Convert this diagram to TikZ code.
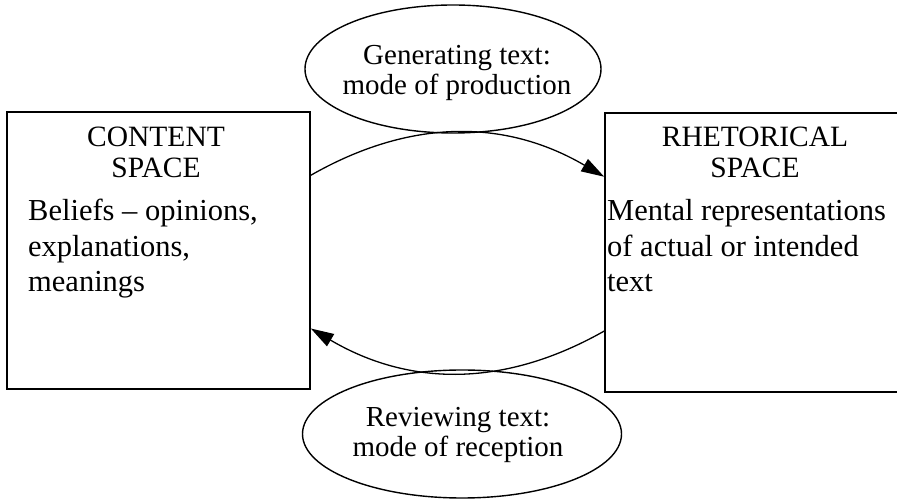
\documentclass[tikz,border=0pt]{standalone}
\usepackage{fontspec}
\setmainfont{Liberation Serif}
\usetikzlibrary{shapes.geometric,arrows.meta,calc}
\begin{document}
\begin{tikzpicture}[x=1pt,y=1pt,
  spacebox/.style={draw, rectangle, line width=1.6pt, inner sep=0pt},
  modeoval/.style={draw, ellipse, line width=1.4pt, inner sep=0pt},
  flow/.style={line width=1.3pt, -{Triangle[length=23pt,width=14pt]}},
  titletext/.style={font=\fontsize{29.5}{31.5}\selectfont, align=center, inner sep=0pt, anchor=base},
  bodytext/.style={font=\fontsize{30.5}{35.5}\selectfont, align=left, inner sep=0pt, anchor=base west},
  ovaltext/.style={font=\fontsize{29}{30}\selectfont, align=center, inner sep=0pt, anchor=base}]
\clip (0,0) rectangle (897,503);
\fill[white] (0,0) rectangle (897,503);
% boxes
\node[spacebox, minimum width=303pt, minimum height=277pt] (L) at (158.5,252.5) {};
\node[spacebox, minimum width=304pt, minimum height=279pt] (R) at (757,250.5) {};
% ovals
\node[modeoval, minimum width=296pt, minimum height=128pt] (G) at (453,434) {};
\node[modeoval, minimum width=319pt, minimum height=128pt] (V) at (462,69) {};
% texts (anchor = baseline of the last line)
\node[titletext] (Lt) at (156,325) {CONTENT\\SPACE};
\node[bodytext] (Lb) at (28,211.3) {Beliefs -- opinions,\\explanations,\\meanings};
\node[titletext] (Rt) at (755,325) {RHETORICAL\\SPACE};
\node[bodytext] (Rb) at (607,211.3) {Mental representations\\of actual or intended\\text};
\node[ovaltext] (Gt) at (457,408) {Generating text:\\mode of production};
\node[ovaltext] (Vt) at (458,46.3) {Reviewing text:\\mode of reception};
% connectors
\draw[flow] ($(L.north east)!0.23!(L.south east)$) to[bend left=30] ($(R.north west)!0.23!(R.south west)$);
\draw[flow] ($(R.north west)!0.78!(R.south west)$) to[bend left=30] ($(L.north east)!0.78!(L.south east)$);
\end{tikzpicture}
\end{document}
